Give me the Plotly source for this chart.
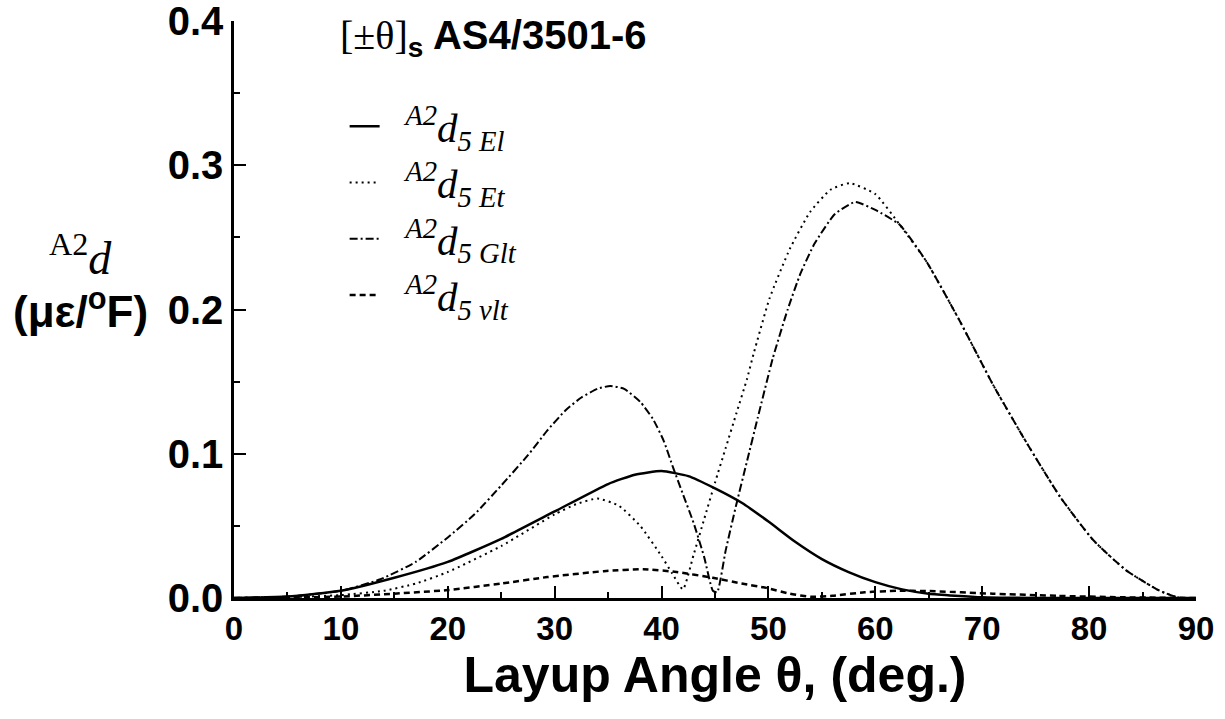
import plotly.graph_objects as go

# ---- data ----
theta_El = [0, 5, 10, 15, 20, 25, 30, 35, 37.5, 40, 42.5, 45, 47.5, 50, 52.5, 55, 57.5, 60, 62.5, 65, 70, 75, 90]
d_El = [0, 0.001, 0.005, 0.014, 0.025, 0.041, 0.060, 0.079, 0.0855, 0.088, 0.0845, 0.076, 0.066, 0.053, 0.039,
        0.027, 0.018, 0.011, 0.006, 0.003, 0.0005, 0, 0]

theta_Et = [0, 5, 10, 14, 17, 20, 25, 30, 32, 34, 36, 38, 40, 41, 42, 43, 44, 45, 46, 47, 48, 48.6, 50.1,
            52, 53.9, 55.8, 57.6, 60, 62.3, 64.8, 67.9, 71, 74.2, 77.3, 80.4, 83.5, 86.6, 88.5, 90]
d_Et = [0, 0.0005, 0.002, 0.005, 0.010, 0.018, 0.036, 0.058, 0.065, 0.069, 0.064, 0.050, 0.029, 0.017, 0.006,
        0.030, 0.055, 0.080, 0.104, 0.128, 0.152, 0.169, 0.2076, 0.242, 0.2676, 0.283, 0.2876, 0.280, 0.2586,
        0.233, 0.192, 0.148, 0.107, 0.070, 0.040, 0.019, 0.005, 0.0, 0]

theta_Glt = [0, 5, 10, 13.7, 17, 20, 22.5, 25, 27.5, 29.3, 31, 32.5, 34, 35.2, 36.5, 38, 39.2, 40.2, 41.1, 42,
             43, 44, 44.8, 45.2, 46, 47, 48, 49, 50.4, 51.8, 53, 54.3, 56.2, 58.1, 60, 62.3, 64.8, 67.9, 71,
             74.2, 77.3, 80.4, 83.5, 86.6, 88.5, 90]
d_Glt = [0, 0.001, 0.005, 0.013, 0.025, 0.042, 0.058, 0.078, 0.099, 0.116, 0.130, 0.139, 0.145, 0.147, 0.145,
         0.136, 0.124, 0.109, 0.090, 0.072, 0.052, 0.028, 0.005, 0.004, 0.033, 0.065, 0.095, 0.125, 0.166,
         0.200, 0.225, 0.2455, 0.266, 0.2745, 0.269, 0.2586, 0.233, 0.192, 0.148, 0.107, 0.070, 0.040, 0.019,
         0.005, 0.0, 0]

theta_vlt = [0, 5, 10, 15, 20, 25, 29.3, 34.6, 38.3, 41.4, 44.8, 47.5, 49.8, 52, 54, 56, 59, 62, 65, 71, 77, 83, 90]
d_vlt = [0, 0.0003, 0.001, 0.003, 0.0055, 0.010, 0.0145, 0.0186, 0.020, 0.018, 0.014, 0.010, 0.007, 0.003,
         0.0008, 0.0015, 0.004, 0.005, 0.0048, 0.003, 0.0015, 0.0005, 0]

series_names = [
    "&nbsp;&nbsp;<i><sup>A2</sup>d<sub>5 El</sub></i>",
    "&nbsp;&nbsp;<i><sup>A2</sup>d<sub>5 Et</sub></i>",
    "&nbsp;&nbsp;<i><sup>A2</sup>d<sub>5 Glt</sub></i>",
    "&nbsp;&nbsp;<i><sup>A2</sup>d<sub>5 νlt</sub></i>",
]

x_ticks = [0, 10, 20, 30, 40, 50, 60, 70, 80, 90]
y_ticks = [0.0, 0.1, 0.2, 0.3, 0.4]
y_tick_text = ["0.0", "0.1", "0.2", "0.3", "0.4"]

# ---- figure ----
fig = go.Figure()
styles = [
    dict(width=2.5, dash="solid"),
    dict(width=2, dash="2px,4px"),
    dict(width=2, dash="8px,3px,2px,3px"),
    dict(width=2.5, dash="6px,4px"),
]
for (tx, dy), name, st in zip([(theta_El, d_El), (theta_Et, d_Et), (theta_Glt, d_Glt), (theta_vlt, d_vlt)],
                              series_names, styles):
    fig.add_trace(go.Scatter(x=tx, y=dy, mode="lines", name=name, line_shape="spline",
                             line=dict(color="black", width=st["width"], dash=st["dash"], smoothing=0.5)))

bold_sans = "Liberation Sans, Arial, sans-serif"
serif = "Liberation Serif, Times New Roman, serif"

T, B = 21, 121
H = 719 - T - B

fig.update_layout(
    width=1225, height=719,
    margin=dict(l=234, r=29, t=T, b=B, autoexpand=False),
    paper_bgcolor="white", plot_bgcolor="white",
    showlegend=True,
    legend=dict(x=0.115, y=(598 - 93) / H, xanchor="left", yanchor="top",
                font=dict(family=serif, size=41, color="black"),
                bgcolor="rgba(0,0,0,0)", itemwidth=30, tracegroupgap=0),
    xaxis=dict(range=[0, 90], tickvals=x_ticks, ticktext=[str(v) for v in x_ticks], automargin=False,
               showline=True, linecolor="black", linewidth=2.5, ticks="inside", ticklen=12,
               tickwidth=2, tickcolor="black", showgrid=False, zeroline=False,
               tickfont=dict(family=bold_sans, size=33, color="black", weight="bold"),
               minor=dict(ticks="inside", dtick=5, ticklen=6, tickwidth=1.5, tickcolor="black", showgrid=False),
               title=dict(text="Layup Angle θ, (deg.)", font=dict(family=bold_sans, size=50, color="black",
                                                                 weight="bold"), standoff=8)),
    yaxis=dict(range=[0, 0.4], tickvals=y_ticks, ticktext=y_tick_text, ticklabeloverflow="allow",
               automargin=False,
               showline=True, linecolor="black", linewidth=2.5, ticks="inside", ticklen=12,
               tickwidth=2, tickcolor="black", showgrid=False, zeroline=False,
               tickfont=dict(family=bold_sans, size=40, color="black", weight="bold"),
               minor=dict(ticks="inside", dtick=0.05, ticklen=6, tickwidth=1.5, tickcolor="black", showgrid=False)),
)

fig.add_annotation(xref="paper", yref="paper", x=(338 - 234) / 962, y=(598 - 38) / H,
                   xanchor="left", yanchor="middle", showarrow=False,
                   text="<span style='font-family:Liberation Serif'>[±θ]</span><b><sub>s</sub> AS4/3501-6</b>",
                   font=dict(family=bold_sans, size=40, color="black"))
fig.add_annotation(xref="paper", yref="paper", x=(80 - 234) / 962, y=(598 - 255) / H,
                   xanchor="center", yanchor="middle", showarrow=False,
                   text="<sup>A2</sup><i>d</i>",
                   font=dict(family=serif, size=46, color="black"))
fig.add_annotation(xref="paper", yref="paper", x=(80 - 234) / 962, y=(598 - 308) / H,
                   xanchor="center", yanchor="middle", showarrow=False,
                   text="<b>(με/<sup>o</sup>F)</b>",
                   font=dict(family=bold_sans, size=44, color="black"))

fig.write_html("out.html")
